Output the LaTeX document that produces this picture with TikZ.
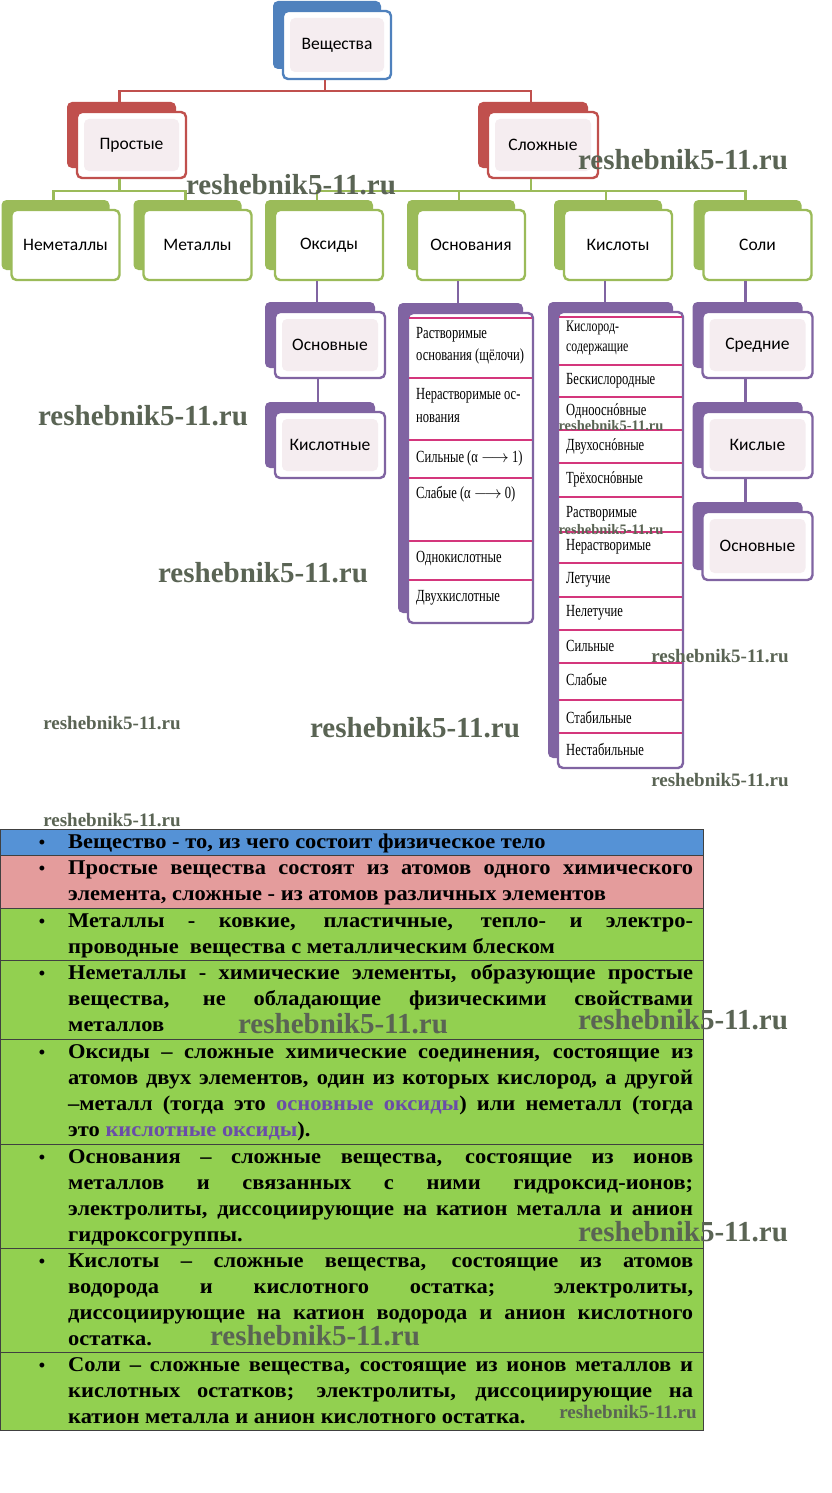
\documentclass[tikz,border=0pt]{standalone}
\usepackage{fontspec}
\setmainfont{Liberation Serif}
\newfontfamily\boxfont{Carlito}
\newfontfamily\listfont[FakeStretch=0.74]{Liberation Serif}
\newfontfamily\tabfont[FakeStretch=1.07]{Liberation Serif}
\newfontfamily\wmfont{Liberation Serif}
\usetikzlibrary{positioning,shadows}

\definecolor{vblue}{HTML}{4F81BD}
\definecolor{vred}{HTML}{C0504D}
\definecolor{vgreen}{HTML}{9BBB59}
\definecolor{vpurple}{HTML}{8064A2}
\definecolor{vpale}{HTML}{F5EDF0}
\definecolor{vrule}{HTML}{D4367C}
\definecolor{tblue}{HTML}{5592D6}
\definecolor{tpink}{HTML}{E49C9C}
\definecolor{tgreen}{HTML}{92D050}
\definecolor{tpurple}{HTML}{6A4DA8}
\definecolor{wmgray}{HTML}{5A6454}

\newcommand{\jline}[1]{\strut\makebox[625pt][s]{#1}}
\newcommand{\pline}[1]{\strut #1}
\newcommand{\acco}{\ooalign{о\cr\hidewidth ´\hidewidth\cr}}

\begin{document}
\begin{tikzpicture}[x=1pt, y=-1pt,
  chartbox/.style={draw, line width=2.4pt, rounded corners=5pt, fill=white,
    minimum width=108pt, minimum height=68pt, inner sep=0pt,
    font=\boxfont\fontsize{17.5}{20}\selectfont},
  palefill/.style={path picture={\fill[vpale]
    ([shift={(7pt,-7pt)}]path picture bounding box.north west) rectangle
    ([shift={(-7pt,7pt)}]path picture bounding box.south east);}},
  backcard/.style={general shadow={fill=#1, shadow xshift=-10pt, shadow yshift=10pt}},
  bluebox/.style={chartbox, palefill, draw=vblue, backcard=vblue},
  redbox/.style={chartbox, palefill, draw=vred, backcard=vred},
  greenbox/.style={chartbox, draw=vgreen, backcard=vgreen, minimum height=70pt},
  purplebox/.style={chartbox, palefill, draw=vpurple, backcard=vpurple, minimum width=110pt, minimum height=66pt},
  listbox/.style={chartbox, draw=vpurple, backcard=vpurple, minimum width=125pt},
  redline/.style={vred, line width=2.5pt},
  greenline/.style={vgreen, line width=2.5pt},
  purpleline/.style={vpurple, line width=2.5pt},
  sepline/.style={vrule, line width=1.5pt},
  listitem/.style={anchor=west, align=left, inner sep=0pt,
    font=\listfont\fontsize{17}{22}\selectfont},
  tabrow/.style={draw=black!75, line width=0.9pt, minimum width=703pt,
    anchor=north west, inner sep=0pt},
  tabtext/.style={anchor=north west, align=left, inner sep=0pt,
    font=\tabfont\bfseries\fontsize{21}{26}\selectfont},
  bul/.style={inner sep=0pt, anchor=base, font=\wmfont\bfseries\fontsize{18}{26}\selectfont},
  wmbig/.style={inner sep=0pt, text=wmgray, font=\wmfont\bfseries\fontsize{29}{30}\selectfont},
  wmmid/.style={inner sep=0pt, text=wmgray, font=\wmfont\bfseries\fontsize{19}{20}\selectfont},
  wmsmall/.style={inner sep=0pt, text=wmgray, font=\wmfont\bfseries\fontsize{14.5}{16}\selectfont}]

  \fill[white] (0,0) rectangle (832,1493);
  \useasboundingbox (0,0) rectangle (832,1493);

  % Top levels
  \node[bluebox] (ves) at (337,45) {Вещества};
  \node[redbox, minimum height=66pt, minimum width=109pt] (prost) at (131.5,145) {Простые};
  \node[redbox, minimum height=66pt, minimum width=110pt] (slozh) at (543,145) {Сложные};

  % Classes
  \node[greenbox] (nemet) at (65.5,245) {Неметаллы};
  \node[greenbox] (met) at (197.5,245) {Металлы};
  \node[greenbox] (oks) at (329,245) {Оксиды};
  \node[greenbox] (osn) at (471,245) {Основания};
  \node[greenbox] (kisl) at (618,245) {Кислоты};
  \node[greenbox] (soli) at (757.5,245) {Соли};

  % Oxides and salts
  \node[purplebox] (osnov) at (330,345) {Основные};
  \node[purplebox] (kislot) at (330,445) {Кислотные};
  \node[purplebox] (sred) at (757.5,345) {Средние};
  \node[purplebox] (kisly) at (757.5,445) {Кислые};
  \node[purplebox, minimum height=68pt] (osnsol) at (757.5,546) {Основные};

  % Bases list
  \node[listbox, minimum height=310pt] (osnlist) at (470.5,468) {};
  \foreach \yy in {318,378,440,478,541,580}
    \draw[sepline] ([xshift=2pt]osnlist.west |- 0,\yy) -- ([xshift=-2pt]osnlist.east |- 0,\yy);
  \node[listitem] (o1) at (416,346) {Растворимые\\основания (щёлочи)};
  \node[listitem, font=\listfont\fontsize{17}{23}\selectfont] (o2) at (416,406) {Нерастворимые ос-\\нования};
  \node[listitem] (o3) at (416,458) {Сильные (α $\longrightarrow$ 1)};
  \node[listitem] (o4) at (416,494) {Слабые (α $\longrightarrow$ 0)};
  \node[listitem] (o5) at (416,559) {Однокислотные};
  \node[listitem] (o6) at (416,598) {Двухкислотные};

  % Acids list
  \node[listbox, minimum height=456pt] (kisllist) at (620.5,540) {};
  \foreach \yy in {317,365,397,430,463,497,532,563,597,630,663,700,733}
    \draw[sepline] ([xshift=2pt]kisllist.west |- 0,\yy) -- ([xshift=-2pt]kisllist.east |- 0,\yy);
  \node[listitem, font=\listfont\fontsize{16}{20}\selectfont] (k1) at (566,338) {Кислород-\\содержащие};
  \node[listitem] (k2) at (566,381) {Бескислородные};
  \node[listitem] (k3) at (566,412) {Одноосн\acco вные};
  \node[listitem] (k4) at (566,447) {Двухосн\acco вные};
  \node[listitem] (k5) at (566,480) {Трёхосн\acco вные};
  \node[listitem] (k6) at (566,514) {Растворимые};
  \node[listitem] (k7) at (566,547) {Нерастворимые};
  \node[listitem] (k8) at (566,580) {Летучие};
  \node[listitem] (k9) at (566,613) {Нелетучие};
  \node[listitem] (k10) at (566,646) {Сильные};
  \node[listitem] (k11) at (566,679) {Слабые};
  \node[listitem] (k12) at (566,717) {Стабильные};
  \node[listitem] (k13) at (566,749) {Нестабильные};

  % Connectors
  \draw[redline] ([xshift=-12pt]ves.south) -- ++(0,11) -| ([xshift=-12pt]prost.north);
  \draw[redline] ([xshift=-12pt]ves.south) -- ++(0,11) -| ([xshift=-12pt]slozh.north);
  \foreach \n in {nemet,met}
    \draw[greenline] ([xshift=-12pt]prost.south) -- ++(0,12) -| ([xshift=-12pt]\n.north);
  \foreach \n in {oks,osn,kisl,soli}
    \draw[greenline] ([xshift=-12pt]slozh.south) -- ++(0,12) -| ([xshift=-12pt]\n.north);
  \draw[purpleline] ([xshift=-12pt]oks.south) -- ([xshift=-12pt]oks.south |- osnov.north);
  \draw[purpleline] ([xshift=-12pt]osnov.south) -- ([xshift=-12pt]osnov.south |- kislot.north);
  \draw[purpleline] ([xshift=-13pt]osn.south) -- ([xshift=-13pt]osn.south |- osnlist.north);
  \draw[purpleline] ([xshift=-13pt]kisl.south) -- ([xshift=-13pt]kisl.south |- kisllist.north);
  \draw[purpleline] ([xshift=-12pt]soli.south) -- ([xshift=-12pt]soli.south |- sred.north);
  \draw[purpleline] ([xshift=-12pt]sred.south) -- ([xshift=-12pt]sred.south |- kisly.north);
  \draw[purpleline] ([xshift=-12pt]kisly.south) -- ([xshift=-12pt]kisly.south |- osnsol.north);

  % Definitions table
  \node[tabrow, fill=tblue, minimum height=26pt] (r1) at (0,829) {};
  \node[tabrow, fill=tpink, minimum height=53pt] (r2) at (0,855) {};
  \node[tabrow, fill=tgreen, minimum height=52pt] (r3) at (0,908) {};
  \node[tabrow, fill=tgreen, minimum height=79pt] (r4) at (0,960) {};
  \node[tabrow, fill=tgreen, minimum height=105pt] (r5) at (0,1039) {};
  \node[tabrow, fill=tgreen, minimum height=104pt] (r6) at (0,1144) {};
  \node[tabrow, fill=tgreen, minimum height=104pt] (r7) at (0,1248) {};
  \node[tabrow, fill=tgreen, minimum height=78pt] (r8) at (0,1352) {};

  \foreach \r in {1,...,8}
    \node[bul] (b\r) at ([xshift=42pt,yshift=-19pt]r\r.north west) {•};

  \node[tabtext] (t1) at ([xshift=68pt,yshift=-1pt]r1.north west)
    {\pline{Вещество - то, из чего состоит физическое тело}};
  \node[tabtext] (t2) at ([xshift=68pt,yshift=-1pt]r2.north west)
    {\jline{Простые вещества состоят из атомов одного химического}\\
     \pline{элемента, сложные - из атомов различных элементов}};
  \node[tabtext] (t3) at ([xshift=68pt,yshift=-1pt]r3.north west)
    {\jline{Металлы - ковкие, пластичные, тепло- и электро-}\\
     \pline{проводные\ \ вещества с металлическим блеском}};
  \node[tabtext] (t4) at ([xshift=68pt,yshift=-1pt]r4.north west)
    {\jline{Неметаллы - химические элементы, образующие простые}\\
     \jline{вещества, не обладающие физическими свойствами}\\
     \pline{металлов}};
  \node[tabtext] (t5) at ([xshift=68pt,yshift=-1pt]r5.north west)
    {\jline{Оксиды – сложные химические соединения, состоящие из}\\
     \jline{атомов двух элементов, один из которых кислород, а другой}\\
     \jline{–металл (тогда это \textcolor{tpurple}{основные оксиды}) или неметалл (тогда}\\
     \pline{это \textcolor{tpurple}{кислотные оксиды}).}};
  \node[tabtext] (t6) at ([xshift=68pt,yshift=-1pt]r6.north west)
    {\jline{Основания – сложные вещества, состоящие из ионов}\\
     \jline{металлов и связанных с ними гидроксид-ионов;}\\
     \jline{электролиты, диссоциирующие на катион металла и анион}\\
     \pline{гидроксогруппы.}};
  \node[tabtext] (t7) at ([xshift=68pt,yshift=-1pt]r7.north west)
    {\jline{Кислоты – сложные вещества, состоящие из атомов}\\
     \jline{водорода и кислотного остатка; электролиты,}\\
     \jline{диссоциирующие на катион водорода и анион кислотного}\\
     \pline{остатка.}};
  \node[tabtext] (t8) at ([xshift=68pt,yshift=-1pt]r8.north west)
    {\jline{Соли – сложные вещества, состоящие из ионов металлов и}\\
     \jline{кислотных остатков; электролиты, диссоциирующие на}\\
     \pline{катион металла и анион кислотного остатка.}};

  % Watermarks
  \node[wmbig] (wm1) at (291,185) {reshebnik5-11.ru};
  \node[wmbig] (wm2) at (683,160) {reshebnik5-11.ru};
  \node[wmbig] (wm3) at (143,416) {reshebnik5-11.ru};
  \node[wmsmall] (wm4) at (611,426) {reshebnik5-11.ru};
  \node[wmsmall] (wm5) at (611,530) {reshebnik5-11.ru};
  \node[wmbig] (wm6) at (263,573) {reshebnik5-11.ru};
  \node[wmmid] (wm7) at (720,656) {reshebnik5-11.ru};
  \node[wmmid] (wm8) at (112,723) {reshebnik5-11.ru};
  \node[wmbig] (wm9) at (415,728) {reshebnik5-11.ru};
  \node[wmmid] (wm10) at (720,780) {reshebnik5-11.ru};
  \node[wmmid] (wm11) at (112,820) {reshebnik5-11.ru};
  \node[wmbig] (wm12) at (343,1024) {reshebnik5-11.ru};
  \node[wmbig] (wm13) at (683,1020) {reshebnik5-11.ru};
  \node[wmbig] (wm14) at (683,1232) {reshebnik5-11.ru};
  \node[wmbig] (wm15) at (315,1336) {reshebnik5-11.ru};
  \node[wmmid] (wm16) at (628,1412) {reshebnik5-11.ru};
\end{tikzpicture}
\end{document}
